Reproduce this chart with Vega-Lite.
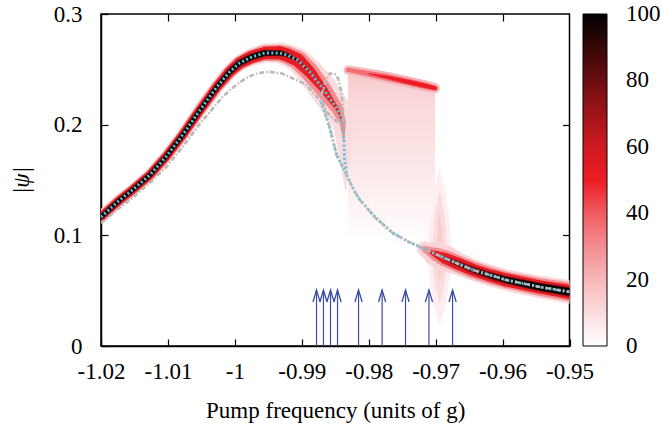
{
  "$schema": "https://vega.github.io/schema/vega-lite/v6.json",
  "width": 468.5,
  "height": 332,
  "autosize": {"type": "none"},
  "padding": {"left": 101, "top": 14, "right": 91.5, "bottom": 83},
  "background": "white",
  "config": {
    "view": {"stroke": "black", "strokeWidth": 1.5},
    "axis": {
      "labelFont": "Liberation Serif", "labelFontSize": 23, "labelColor": "black",
      "titleFont": "Liberation Serif", "titleFontSize": 23, "titleFontWeight": "normal", "titleColor": "black",
      "domainColor": "black", "domainWidth": 1.5, "tickColor": "black", "tickWidth": 1.2, "tickSize": -7, "grid": false,
      "labelOverlap": false, "labelFlush": false
    }
  },
  "datasets": {
    "main": [
      {"x": -1.0200, "y": 0.1166, "w1": 0.011, "w2": 0.009, "w3": 0.0075, "w4": 0.0048, "w5": 0.0035},
      {"x": -1.0172, "y": 0.1319, "w1": 0.011, "w2": 0.009, "w3": 0.0075, "w4": 0.0048, "w5": 0.0035},
      {"x": -1.0153, "y": 0.1410, "w1": 0.011, "w2": 0.009, "w3": 0.0075, "w4": 0.0048, "w5": 0.0035},
      {"x": -1.0127, "y": 0.1545, "w1": 0.011, "w2": 0.009, "w3": 0.0075, "w4": 0.0048, "w5": 0.0035},
      {"x": -1.0102, "y": 0.1717, "w1": 0.011, "w2": 0.009, "w3": 0.0075, "w4": 0.0048, "w5": 0.0035},
      {"x": -1.0078, "y": 0.1907, "w1": 0.011, "w2": 0.009, "w3": 0.0075, "w4": 0.0048, "w5": 0.0035},
      {"x": -1.0052, "y": 0.2133, "w1": 0.012, "w2": 0.0095, "w3": 0.0078, "w4": 0.005, "w5": 0.0036},
      {"x": -1.0027, "y": 0.2340, "w1": 0.012, "w2": 0.010, "w3": 0.008, "w4": 0.005, "w5": 0.0037},
      {"x": -1.0008, "y": 0.2476, "w1": 0.013, "w2": 0.011, "w3": 0.009, "w4": 0.0055, "w5": 0.004},
      {"x": -0.9993, "y": 0.2557, "w1": 0.014, "w2": 0.012, "w3": 0.010, "w4": 0.006, "w5": 0.0042},
      {"x": -0.9975, "y": 0.2611, "w1": 0.016, "w2": 0.013, "w3": 0.011, "w4": 0.006, "w5": 0.0045},
      {"x": -0.9955, "y": 0.2648, "w1": 0.017, "w2": 0.014, "w3": 0.011, "w4": 0.006, "w5": 0.0045},
      {"x": -0.9933, "y": 0.2648, "w1": 0.019, "w2": 0.015, "w3": 0.012, "w4": 0.0055, "w5": 0.004},
      {"x": -0.9922, "y": 0.2630, "w1": 0.020, "w2": 0.016, "w3": 0.012, "w4": 0.0045, "w5": 0.002},
      {"x": -0.9906, "y": 0.2584, "w1": 0.022, "w2": 0.017, "w3": 0.012, "w4": 0.002, "w5": 0},
      {"x": -0.9888, "y": 0.2476, "w1": 0.024, "w2": 0.017, "w3": 0.010, "w4": 0, "w5": null},
      {"x": -0.9869, "y": 0.2331, "w1": 0.026, "w2": 0.015, "w3": 0.007, "w4": null, "w5": null},
      {"x": -0.9848, "y": 0.2150, "w1": 0.024, "w2": 0.011, "w3": 0.003, "w4": null, "w5": null},
      {"x": -0.9839, "y": 0.2024, "w1": 0.020, "w2": 0.006, "w3": 0, "w4": null, "w5": null},
      {"x": -0.9837, "y": 0.1850, "w1": 0.014, "w2": 0, "w3": null, "w4": null, "w5": null},
      {"x": -0.9836, "y": 0.1650, "w1": 0.008, "w2": null, "w3": null, "w4": null, "w5": null},
      {"x": -0.9834, "y": 0.1400, "w1": 0, "w2": null, "w3": null, "w4": null, "w5": null}
    ],
    "lower": [
      {"x": -0.9716, "y": 0.0875, "w1": 0.014, "w2": 0.006, "w3": 0, "w4": null, "w5": null},
      {"x": -0.9700, "y": 0.0830, "w1": 0.022, "w2": 0.012, "w3": 0.006, "w4": 0, "w5": null},
      {"x": -0.9686, "y": 0.0792, "w1": 0.024, "w2": 0.015, "w3": 0.010, "w4": 0.003, "w5": null},
      {"x": -0.9665, "y": 0.0740, "w1": 0.020, "w2": 0.015, "w3": 0.011, "w4": 0.005, "w5": 0},
      {"x": -0.9644, "y": 0.0687, "w1": 0.019, "w2": 0.015, "w3": 0.011, "w4": 0.006, "w5": 0.0015},
      {"x": -0.9620, "y": 0.0640, "w1": 0.019, "w2": 0.015, "w3": 0.011, "w4": 0.0065, "w5": 0.0035},
      {"x": -0.9594, "y": 0.0596, "w1": 0.019, "w2": 0.015, "w3": 0.012, "w4": 0.007, "w5": 0.0048},
      {"x": -0.9544, "y": 0.0533, "w1": 0.020, "w2": 0.016, "w3": 0.012, "w4": 0.0078, "w5": 0.0058},
      {"x": -0.9499, "y": 0.0488, "w1": 0.021, "w2": 0.017, "w3": 0.013, "w4": 0.0085, "w5": 0.0065}
    ],
    "topband": [
      {"x": -0.9831, "y": 0.2495, "w1": 0.008, "w2": 0.004, "w3": null},
      {"x": -0.9800, "y": 0.2460, "w1": 0.009, "w2": 0.005, "w3": 0},
      {"x": -0.9770, "y": 0.2425, "w1": 0.010, "w2": 0.006, "w3": 0.003},
      {"x": -0.9740, "y": 0.2385, "w1": 0.010, "w2": 0.006, "w3": 0.004},
      {"x": -0.9715, "y": 0.2350, "w1": 0.010, "w2": 0.006, "w3": 0.004},
      {"x": -0.9701, "y": 0.2330, "w1": 0.009, "w2": 0.005, "w3": 0.0035}
    ],
    "plateau": [
      {"x": -0.9831, "y": 0.2524, "y2": 0.100},
      {"x": -0.9800, "y": 0.2490, "y2": 0.096},
      {"x": -0.9770, "y": 0.2455, "y2": 0.093},
      {"x": -0.9740, "y": 0.2415, "y2": 0.090},
      {"x": -0.9715, "y": 0.2380, "y2": 0.088},
      {"x": -0.9701, "y": 0.2358, "y2": 0.087}
    ],
    "haze": [
      {"o": 1, "x": -0.9694, "y": 0.020, "w1": 0, "w2": null, "w3": null},
      {"o": 2, "x": -0.9694, "y": 0.040, "w1": 0.012, "w2": 0, "w3": null},
      {"o": 3, "x": -0.9694, "y": 0.060, "w1": 0.018, "w2": 0.010, "w3": 0},
      {"o": 4, "x": -0.9694, "y": 0.080, "w1": 0.022, "w2": 0.014, "w3": 0.007},
      {"o": 5, "x": -0.9694, "y": 0.100, "w1": 0.020, "w2": 0.012, "w3": 0.004},
      {"o": 6, "x": -0.9694, "y": 0.120, "w1": 0.016, "w2": 0.008, "w3": 0},
      {"o": 7, "x": -0.9694, "y": 0.140, "w1": 0.010, "w2": 0, "w3": null},
      {"o": 8, "x": -0.9694, "y": 0.160, "w1": 0, "w2": null, "w3": null}
    ],
    "gray": [
      {"seg": "a", "o": 1, "x": -1.0200, "y": 0.1110},
      {"seg": "a", "o": 2, "x": -1.0172, "y": 0.1250},
      {"seg": "a", "o": 3, "x": -1.0153, "y": 0.1340},
      {"seg": "a", "o": 4, "x": -1.0127, "y": 0.1475},
      {"seg": "a", "o": 5, "x": -1.0102, "y": 0.1620},
      {"seg": "a", "o": 6, "x": -1.0078, "y": 0.1800},
      {"seg": "a", "o": 7, "x": -1.0052, "y": 0.2010},
      {"seg": "a", "o": 8, "x": -1.0018, "y": 0.2253},
      {"seg": "a", "o": 9, "x": -0.9998, "y": 0.2360},
      {"seg": "a", "o": 10, "x": -0.9980, "y": 0.2433},
      {"seg": "a", "o": 11, "x": -0.9965, "y": 0.2466},
      {"seg": "a", "o": 12, "x": -0.9948, "y": 0.2479},
      {"seg": "a", "o": 13, "x": -0.9930, "y": 0.2463},
      {"seg": "a", "o": 14, "x": -0.9908, "y": 0.2404},
      {"seg": "a", "o": 15, "x": -0.9893, "y": 0.2358},
      {"seg": "a", "o": 16, "x": -0.9871, "y": 0.2208},
      {"seg": "a", "o": 17, "x": -0.9858, "y": 0.1967},
      {"seg": "a", "o": 18, "x": -0.9848, "y": 0.1726},
      {"seg": "a", "o": 19, "x": -0.9833, "y": 0.1545},
      {"seg": "a", "o": 20, "x": -0.9821, "y": 0.1394},
      {"seg": "a", "o": 21, "x": -0.9813, "y": 0.1319},
      {"seg": "a", "o": 22, "x": -0.9790, "y": 0.1160},
      {"seg": "a", "o": 23, "x": -0.9764, "y": 0.1021},
      {"seg": "a", "o": 24, "x": -0.9740, "y": 0.0940},
      {"seg": "a", "o": 25, "x": -0.9713, "y": 0.0867},
      {"seg": "a", "o": 26, "x": -0.9686, "y": 0.0792},
      {"seg": "a", "o": 27, "x": -0.9644, "y": 0.0687},
      {"seg": "a", "o": 28, "x": -0.9594, "y": 0.0596},
      {"seg": "a", "o": 29, "x": -0.9544, "y": 0.0533},
      {"seg": "a", "o": 30, "x": -0.9499, "y": 0.0488},
      {"seg": "b", "o": 1, "x": -0.98705, "y": 0.2268},
      {"seg": "b", "o": 2, "x": -0.98640, "y": 0.2400},
      {"seg": "b", "o": 3, "x": -0.98581, "y": 0.2464},
      {"seg": "b", "o": 4, "x": -0.98507, "y": 0.2458},
      {"seg": "b", "o": 5, "x": -0.98457, "y": 0.2419},
      {"seg": "b", "o": 6, "x": -0.98410, "y": 0.2300},
      {"seg": "b", "o": 7, "x": -0.98383, "y": 0.2133},
      {"seg": "b", "o": 8, "x": -0.98383, "y": 0.2027},
      {"seg": "b", "o": 9, "x": -0.98457, "y": 0.2012},
      {"seg": "b", "o": 10, "x": -0.98550, "y": 0.2069},
      {"seg": "b", "o": 11, "x": -0.98631, "y": 0.2117},
      {"seg": "b", "o": 12, "x": -0.98705, "y": 0.2223},
      {"seg": "b", "o": 13, "x": -0.98705, "y": 0.2268}
    ],
    "cyan": [
      {"seg": "a", "o": 1, "x": -1.0200, "y": 0.1166},
      {"seg": "a", "o": 2, "x": -1.0172, "y": 0.1319},
      {"seg": "a", "o": 3, "x": -1.0153, "y": 0.1410},
      {"seg": "a", "o": 4, "x": -1.0127, "y": 0.1545},
      {"seg": "a", "o": 5, "x": -1.0102, "y": 0.1717},
      {"seg": "a", "o": 6, "x": -1.0078, "y": 0.1907},
      {"seg": "a", "o": 7, "x": -1.0052, "y": 0.2133},
      {"seg": "a", "o": 8, "x": -1.0027, "y": 0.2340},
      {"seg": "a", "o": 9, "x": -1.0008, "y": 0.2476},
      {"seg": "a", "o": 10, "x": -0.9993, "y": 0.2557},
      {"seg": "a", "o": 11, "x": -0.9975, "y": 0.2611},
      {"seg": "a", "o": 12, "x": -0.9955, "y": 0.2648},
      {"seg": "a", "o": 13, "x": -0.9933, "y": 0.2648},
      {"seg": "a", "o": 14, "x": -0.9922, "y": 0.2630},
      {"seg": "a", "o": 15, "x": -0.9906, "y": 0.2584},
      {"seg": "a", "o": 16, "x": -0.9888, "y": 0.2476},
      {"seg": "a", "o": 17, "x": -0.9869, "y": 0.2331},
      {"seg": "a", "o": 18, "x": -0.9848, "y": 0.2150},
      {"seg": "a", "o": 19, "x": -0.9839, "y": 0.2024},
      {"seg": "a", "o": 20, "x": -0.9837, "y": 0.1850},
      {"seg": "a", "o": 21, "x": -0.9836, "y": 0.1680},
      {"seg": "a", "o": 22, "x": -0.9834, "y": 0.1600},
      {"seg": "a", "o": 23, "x": -0.9833, "y": 0.1545},
      {"seg": "a", "o": 24, "x": -0.9821, "y": 0.1394},
      {"seg": "a", "o": 25, "x": -0.9813, "y": 0.1319},
      {"seg": "a", "o": 26, "x": -0.9790, "y": 0.1160},
      {"seg": "a", "o": 27, "x": -0.9764, "y": 0.1021},
      {"seg": "a", "o": 28, "x": -0.9740, "y": 0.0940},
      {"seg": "a", "o": 29, "x": -0.9713, "y": 0.0867},
      {"seg": "a", "o": 30, "x": -0.9686, "y": 0.0792},
      {"seg": "a", "o": 31, "x": -0.9644, "y": 0.0687},
      {"seg": "a", "o": 32, "x": -0.9594, "y": 0.0596},
      {"seg": "a", "o": 33, "x": -0.9544, "y": 0.0533},
      {"seg": "a", "o": 34, "x": -0.9499, "y": 0.0488},
      {"seg": "b", "o": 1, "x": -0.9871, "y": 0.2208},
      {"seg": "b", "o": 2, "x": -0.9858, "y": 0.1967},
      {"seg": "b", "o": 3, "x": -0.9848, "y": 0.1726},
      {"seg": "b", "o": 4, "x": -0.9834, "y": 0.1560}
    ],
    "arrows": [
      {"x": -0.9878, "y": 0.0506, "y2": 0},
      {"x": -0.98676, "y": 0.0506, "y2": 0},
      {"x": -0.98571, "y": 0.0506, "y2": 0},
      {"x": -0.98466, "y": 0.0506, "y2": 0},
      {"x": -0.98152, "y": 0.0506, "y2": 0},
      {"x": -0.9780, "y": 0.0506, "y2": 0},
      {"x": -0.9745, "y": 0.0506, "y2": 0},
      {"x": -0.9710, "y": 0.0506, "y2": 0},
      {"x": -0.96747, "y": 0.0506, "y2": 0}
    ]
  },
  "encoding": {
    "x": {
      "field": "x", "type": "quantitative",
      "scale": {"domain": [-1.02, -0.95], "nice": false, "zero": false},
      "axis": {
        "title": "Pump frequency (units of g)",
        "values": [-1.02, -1.01, -1, -0.99, -0.98, -0.97, -0.96, -0.95],
        "labelExpr": "replace(format(datum.value, '~g'), '\u2212', '-')",
        "labelBaseline": "middle", "labelPadding": 32,
        "titleX": 234.25, "titleY": 64, "titleBaseline": "middle", "titleAlign": "center"
      }
    },
    "y": {
      "field": "y", "type": "quantitative",
      "scale": {"domain": [0, 0.3], "nice": false, "zero": false},
      "axis": {
        "title": "|ψ|",
        "values": [0, 0.1, 0.2, 0.3],
        "format": "~g",
        "labelPadding": 26,
        "titleX": -80, "titleY": 166, "titleAngle": -90, "titleAlign": "center", "titleBaseline": "middle",
        "titleFontStyle": "italic"
      }
    }
  },
  "resolve": {"axis": {"x": "independent", "y": "independent"}},
  "layer": [
    {
      "layer": [
        {
          "data": {"name": "plateau"},
          "mark": {"type": "area", "clip": true, "fill": {"gradient": "linear", "x1": 0, "y1": 0, "x2": 0, "y2": 1, "stops": [
            {"offset": 0, "color": "#f8c8cb"}, {"offset": 0.2, "color": "#fad8da"}, {"offset": 0.55, "color": "#fce8e9"}, {"offset": 0.85, "color": "#fef8f8"}, {"offset": 1, "color": "#ffffff"}]}},
          "encoding": {"y2": {"field": "y2"}}
        },
        {
          "data": {"name": "haze"}, "transform": [{"filter": "isValid(datum.w1)"}],
          "mark": {"type": "trail", "clip": true},
          "encoding": {
            "order": {"field": "o", "type": "quantitative"},
            "size": {"field": "w1", "type": "quantitative", "scale": {"domain": [0, 0.03], "range": [0, 33.2]}, "legend": null},
            "color": {
              "datum": 5, "type": "quantitative",
              "scale": {"type": "linear", "interpolate": "rgb", "domain": [0, 10, 20, 30, 40, 50, 60, 70, 80, 90, 100],
                "range": ["#ffffff", "#fbdcde", "#f7b7ba", "#f38d91", "#f05c62", "#ec1c24", "#cf1a21", "#9e1419", "#6b0d10", "#370708", "#000000"]},
              "legend": {
                "title": null, "type": "gradient", "direction": "vertical", "orient": "right", "offset": 12,
                "values": [0, 20, 40, 60, 80, 100],
                "gradientLength": 332, "gradientThickness": 24, "gradientStrokeColor": "black", "gradientStrokeWidth": 1,
                "labelFont": "Liberation Serif", "labelFontSize": 23, "labelColor": "black", "labelOffset": 19,
                "labelOverlap": false, "padding": 0,
                "encode": {"labels": {"update": {"baseline": {"value": "middle"}}}}
              }
            }
          }
        },
        {"data": {"name": "haze"}, "transform": [{"filter": "isValid(datum.w2)"}], "mark": {"type": "trail", "clip": true},
         "encoding": {"order": {"field": "o", "type": "quantitative"}, "size": {"field": "w2", "type": "quantitative"}, "color": {"datum": 10, "type": "quantitative"}}},
        {"data": {"name": "haze"}, "transform": [{"filter": "isValid(datum.w3)"}], "mark": {"type": "trail", "clip": true},
         "encoding": {"order": {"field": "o", "type": "quantitative"}, "size": {"field": "w3", "type": "quantitative"}, "color": {"datum": 15, "type": "quantitative"}}},
        {"data": {"name": "main"}, "transform": [{"filter": "isValid(datum.w1)"}], "mark": {"type": "trail", "clip": true},
         "encoding": {"size": {"field": "w1", "type": "quantitative"}, "color": {"datum": 10, "type": "quantitative"}}},
        {"data": {"name": "main"}, "transform": [{"filter": "isValid(datum.w2)"}], "mark": {"type": "trail", "clip": true},
         "encoding": {"size": {"field": "w2", "type": "quantitative"}, "color": {"datum": 30, "type": "quantitative"}}},
        {"data": {"name": "main"}, "transform": [{"filter": "isValid(datum.w3)"}], "mark": {"type": "trail", "clip": true},
         "encoding": {"size": {"field": "w3", "type": "quantitative"}, "color": {"datum": 52, "type": "quantitative"}}},
        {"data": {"name": "main"}, "transform": [{"filter": "isValid(datum.w4)"}], "mark": {"type": "trail", "clip": true},
         "encoding": {"size": {"field": "w4", "type": "quantitative"}, "color": {"datum": 78, "type": "quantitative"}}},
        {"data": {"name": "main"}, "transform": [{"filter": "isValid(datum.w5)"}], "mark": {"type": "trail", "clip": true},
         "encoding": {"size": {"field": "w5", "type": "quantitative"}, "color": {"datum": 100, "type": "quantitative"}}},
        {"data": {"name": "lower"}, "transform": [{"filter": "isValid(datum.w1)"}], "mark": {"type": "trail", "clip": true},
         "encoding": {"size": {"field": "w1", "type": "quantitative"}, "color": {"datum": 12, "type": "quantitative"}}},
        {"data": {"name": "lower"}, "transform": [{"filter": "isValid(datum.w2)"}], "mark": {"type": "trail", "clip": true},
         "encoding": {"size": {"field": "w2", "type": "quantitative"}, "color": {"datum": 30, "type": "quantitative"}}},
        {"data": {"name": "lower"}, "transform": [{"filter": "isValid(datum.w3)"}], "mark": {"type": "trail", "clip": true},
         "encoding": {"size": {"field": "w3", "type": "quantitative"}, "color": {"datum": 52, "type": "quantitative"}}},
        {"data": {"name": "lower"}, "transform": [{"filter": "isValid(datum.w4)"}], "mark": {"type": "trail", "clip": true},
         "encoding": {"size": {"field": "w4", "type": "quantitative"}, "color": {"datum": 78, "type": "quantitative"}}},
        {"data": {"name": "lower"}, "transform": [{"filter": "isValid(datum.w5)"}], "mark": {"type": "trail", "clip": true},
         "encoding": {"size": {"field": "w5", "type": "quantitative"}, "color": {"datum": 100, "type": "quantitative"}}},
        {"data": {"name": "topband"}, "transform": [{"filter": "isValid(datum.w1)"}], "mark": {"type": "trail", "clip": true},
         "encoding": {"size": {"field": "w1", "type": "quantitative"}, "color": {"datum": 20, "type": "quantitative"}}},
        {"data": {"name": "topband"}, "transform": [{"filter": "isValid(datum.w2)"}], "mark": {"type": "trail", "clip": true},
         "encoding": {"size": {"field": "w2", "type": "quantitative"}, "color": {"datum": 36, "type": "quantitative"}}},
        {"data": {"name": "topband"}, "transform": [{"filter": "isValid(datum.w3)"}], "mark": {"type": "trail", "clip": true},
         "encoding": {"size": {"field": "w3", "type": "quantitative"}, "color": {"datum": 50, "type": "quantitative"}}},
        {
          "data": {"name": "cyan"},
          "mark": {"type": "line", "clip": true, "stroke": "#5cc4d8", "strokeWidth": 3, "strokeDash": [2, 2.4]},
          "encoding": {"detail": {"field": "seg"}, "order": {"field": "o", "type": "quantitative"}}
        },
        {
          "data": {"name": "gray"},
          "mark": {"type": "line", "clip": true, "stroke": "#b8b8b8", "strokeWidth": 2.5, "strokeDash": [5, 2, 1.5, 2]},
          "encoding": {"detail": {"field": "seg"}, "order": {"field": "o", "type": "quantitative"}}
        },
        {
          "data": {"name": "arrows"},
          "mark": {"type": "rule", "color": "#3b4ca5", "strokeWidth": 1.2},
          "encoding": {"y2": {"field": "y2"}}
        },
        {
          "data": {"name": "arrows"},
          "mark": {"type": "point", "shape": "M-0.6,2L0,0L0.6,2", "size": 144, "filled": false, "color": "#3b4ca5", "strokeWidth": 1.3, "opacity": 1}
        }
      ]
    },
    {
      "data": {"name": "arrows"},
      "mark": {"type": "point", "opacity": 0},
      "encoding": {
        "x": {"field": "x", "type": "quantitative", "scale": {"domain": [-1.02, -0.95], "nice": false, "zero": false},
          "axis": {"orient": "top", "labels": false, "title": null, "domain": false, "values": [-1.01, -1, -0.99, -0.98, -0.97, -0.96], "tickSize": -7}},
        "y": {"field": "y", "type": "quantitative", "scale": {"domain": [0, 0.3], "nice": false, "zero": false},
          "axis": {"orient": "right", "labels": false, "title": null, "domain": false, "values": [0.1, 0.2], "tickSize": -7}}
      }
    }
  ]
}
